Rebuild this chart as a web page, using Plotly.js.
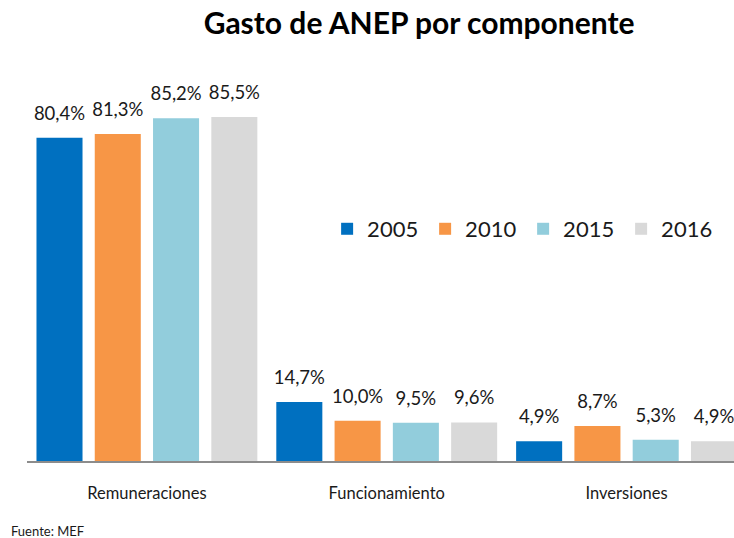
<!DOCTYPE html>
<html><head><meta charset="utf-8">
<script src="https://cdn.plot.ly/plotly-3.0.1.min.js"></script>
<style>html,body{margin:0;padding:0;background:#fff}</style>
</head><body>
<div id="chart" style="width:734px;height:538px"></div>
<script>
const categories = ["Remuneraciones", "Funcionamiento", "Inversiones"];
const years = ["2005", "2010", "2015", "2016"];
const v2005 = [80.4, 14.7, 4.9];
const v2010 = [81.3, 10.0, 8.7];
const v2015 = [85.2, 9.5, 5.3];
const v2016 = [85.5, 9.6, 4.9];
const seriesValues = [v2005, v2010, v2015, v2016];
const colors = ["#0070C0", "#F79646", "#92CDDC", "#D9D9D9"];

const FONT = "Lato, 'Open Sans', sans-serif";
const fmt = v => v.toFixed(1).replace(".", ",") + "%";

const traces = [];
years.forEach((y, i) => {
  traces.push({
    type: "bar", name: y, x: categories, y: seriesValues[i],
    marker: {color: colors[i]}, hoverinfo: "skip",
    offsetgroup: "b" + i, alignmentgroup: "bars"
  });
});
years.forEach((y, i) => {
  traces.push({
    type: "scatter", mode: "markers+text", showlegend: false, x: categories, y: seriesValues[i],
    orientation: "v", offsetgroup: "s" + i, alignmentgroup: "labels",
    text: seriesValues[i].map(fmt), textposition: "top center",
    marker: {size: 20, opacity: 0},
    textfont: {family: FONT, size: 18.5, color: "#1a1a1a"},
    cliponaxis: false, hoverinfo: "skip"
  });
});

const layout = {
  width: 734, height: 538,
  margin: {l: 27, r: 0, t: 60, b: 77},
  paper_bgcolor: "#fff", plot_bgcolor: "#fff",
  barmode: "group", scattermode: "group",
  bargap: 0.028, bargroupgap: 0.21, scattergap: 0.028,
  title: {text: "<b>Gasto de ANEP por componente</b>", font: {family: FONT, size: 30, color: "#000"},
          x: 0.571, xref: "container", xanchor: "center", y: 0.956, yref: "container", yanchor: "middle"},
  xaxis: {range: [-0.5, 2.448], showline: true, linecolor: "#8c8c8c", linewidth: 2,
          ticks: "", showgrid: false, zeroline: false, ticklabelstandoff: 16,
          tickfont: {family: FONT, size: 16.5, color: "#1a1a1a"}, fixedrange: true},
  yaxis: {range: [0, 99.7], visible: false, showgrid: false, zeroline: false, fixedrange: true},
  showlegend: true,
  legend: {orientation: "h", x: 0.4245, xanchor: "left", y: 0.5786, yanchor: "middle",
           font: {family: FONT, size: 22, color: "#1a1a1a"}, entrywidth: 53, bgcolor: "rgba(0,0,0,0)",
           traceorder: "normal"},
  annotations: [{text: "Fuente: MEF", xref: "paper", yref: "paper", x: -0.025, y: -0.174,
                 xanchor: "left", yanchor: "middle", showarrow: false,
                 font: {family: FONT, size: 13, color: "#1a1a1a"}}]
};
Plotly.newPlot("chart", traces, layout, {displayModeBar: false, staticPlot: true});
</script>
</body></html>
